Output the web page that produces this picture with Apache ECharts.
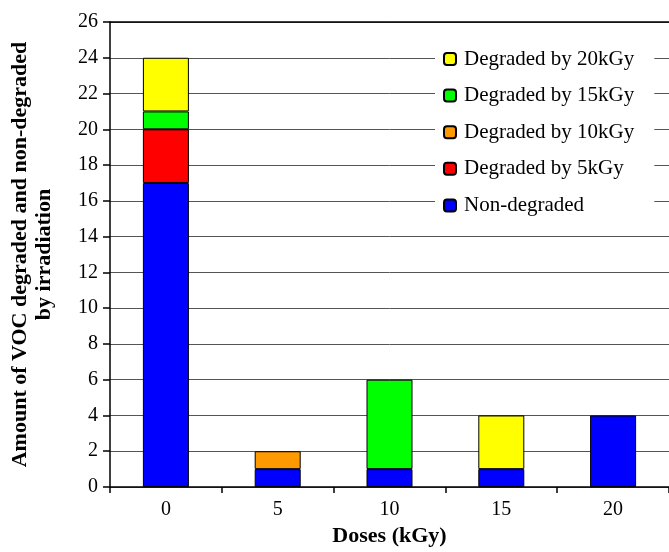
<!DOCTYPE html>
<html>
<head>
<meta charset="utf-8">
<script src="https://cdn.jsdelivr.net/npm/echarts@6/dist/echarts.min.js"></script>
<style>html,body{margin:0;padding:0;background:#fff;overflow:hidden}#c{width:669px;height:552px}</style>
</head>
<body>
<div id="c"></div>
<script>
var categories = ['0', '5', '10', '15', '20'];
var nonDegraded = [17, 1, 1, 1, 4];
var degraded5 = [3, 0, 0, 0, 0];
var degraded10 = [0, 1, 0, 0, 0];
var degraded15 = [1, 0, 5, 0, 0];
var degraded20 = [3, 0, 0, 3, 0];
var seriesNames = ['Non-degraded', 'Degraded by 5kGy', 'Degraded by 10kGy', 'Degraded by 15kGy', 'Degraded by 20kGy'];
var seriesColors = ['#0000FF', '#FF0000', '#FF9900', '#00FF00', '#FFFF00'];
var yTicks = [0, 2, 4, 6, 8, 10, 12, 14, 16, 18, 20, 22, 24, 26];

var FONT = 'Liberation Serif';
var values = [nonDegraded, degraded5, degraded10, degraded15, degraded20];
var series = values.map(function (arr, i) {
  return {
    name: seriesNames[i],
    type: 'bar',
    stack: 'total',
    barWidth: 46,
    data: arr.map(function (v) { return v === 0 ? '-' : v; }),
    itemStyle: { color: seriesColors[i], borderColor: '#000', borderWidth: 1 },
    emphasis: { disabled: true }
  };
});

var chart = echarts.init(document.getElementById('c'), null, { renderer: 'canvas', width: 669, height: 552 });
chart.setOption({
  animation: false,
  backgroundColor: '#fff',
  grid: { left: 105, right: 0, top: 22, height: 470, containLabel: false },
  legend: {
    orient: 'vertical',
    left: 435,
    top: 40,
    padding: [8, 20, 8, 8],
    backgroundColor: '#fff',
    itemWidth: 12,
    itemHeight: 12,
    itemGap: 14.6,
    data: seriesNames.slice().reverse(),
    textStyle: { fontFamily: FONT, fontSize: 21, color: '#000', lineHeight: 22, padding: [0, 0, 0, 3] }
  },
  xAxis: [{
    type: 'category',
    data: categories,
    name: 'Doses (kGy)',
    nameLocation: 'middle',
    nameGap: 38,
    nameTextStyle: { fontFamily: FONT, fontSize: 22, fontWeight: 'bold', color: '#000' },
    axisLine: { lineStyle: { color: '#000', width: 1.5 } },
    axisTick: { show: true, alignWithLabel: false, length: 6, lineStyle: { color: '#000', width: 1.5 } },
    axisLabel: { fontFamily: FONT, fontSize: 20, color: '#000', margin: 13 },
    splitLine: { show: false }
  }, {
    type: 'category',
    data: categories,
    position: 'top',
    axisLine: { lineStyle: { color: '#000', width: 1.5 } },
    axisTick: { show: false },
    axisLabel: { show: false },
    splitLine: { show: false }
  }],
  yAxis: {
    type: 'value',
    min: 0,
    max: 26,
    interval: 2,
    name: 'Amount of VOC degraded and non-degraded\nby irradiation',
    nameLocation: 'middle',
    nameRotate: 90,
    nameGap: 54,
    nameTextStyle: { fontFamily: FONT, fontSize: 22, fontWeight: 'bold', color: '#000', lineHeight: 24 },
    axisLine: { show: true, lineStyle: { color: '#000', width: 1.5 } },
    axisTick: { show: true, length: 7, lineStyle: { color: '#000', width: 1.5 } },
    axisLabel: { fontFamily: FONT, fontSize: 20, color: '#000', margin: 12 },
    splitLine: { show: true, lineStyle: { color: '#555555', width: 1 } }
  },
  series: series
});
</script>
</body>
</html>
